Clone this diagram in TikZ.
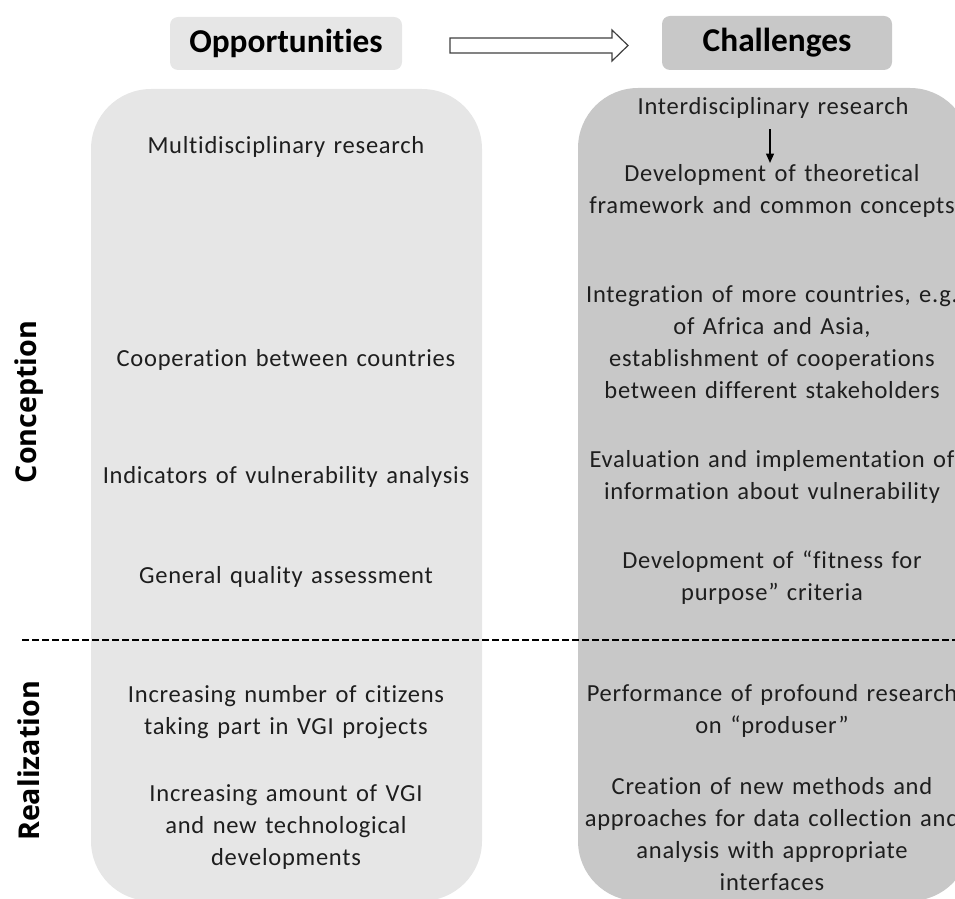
\documentclass[tikz,border=0pt]{standalone}
\usepackage{fontspec}
\setmainfont{Carlito}[LetterSpace=3, Ligatures={NoCommon}, WordSpace=1.35]
\newfontfamily\headfont{Carlito}[Ligatures={NoCommon}]
\newfontfamily\sidefont{Open Sans}
\usetikzlibrary{arrows.meta}
\definecolor{lightpanel}{HTML}{E6E6E6}
\definecolor{darkpanel}{HTML}{C8C8C8}
\definecolor{txt}{HTML}{1E1E1E}
\definecolor{arrowline}{HTML}{404040}
\begin{document}
\begin{tikzpicture}[x=0.75pt,y=-0.75pt,
  body/.style={align=center, font=\fontsize{18.4}{24}\selectfont, text=txt, inner sep=0pt},
  head/.style={font=\headfont\bfseries\fontsize{25}{30}\selectfont, rounded corners=6pt, inner sep=0pt},
  side/.style={font=\sidefont\bfseries\fontsize{21.5}{26}\selectfont, rotate=90, inner sep=0pt},
  smallarrow/.style={-{Triangle[length=7pt,width=6pt]}, line width=0.9pt, black}
]
\useasboundingbox (0,0) rectangle (955,898);
\begin{scope}
\clip (0,0) rectangle (955,898);
% panels
\fill[lightpanel, rounded corners=45pt] (91,89) rectangle (482,901);
\fill[darkpanel, rounded corners=45pt] (578,88) rectangle (970,901);
% headers
\node[head, fill=lightpanel, minimum width=174pt, minimum height=39.75pt] (opp) at (286,43.5) {Opportunities};
\node[head, fill=darkpanel, minimum width=172.5pt, minimum height=40.5pt] (chal) at (777,43) {Challenges};
% block arrow
\draw[arrowline, fill=white, line width=0.9pt, line join=miter]
  (450,38) -- (612,38) -- (612,30) -- (628,45.5) -- (612,61) -- (612,53) -- (450,53) -- cycle;
% dashed separator
\draw[black, line width=1.5pt, dash pattern=on 5pt off 2.5pt] (22,640) -- (955,640);
% side labels
\node[side] (conc) at (29,402) {Conception};
\node[side] (real) at (29,761) {Realization};
% left column
\node[body] (l1) at (286,147) {Multidisciplinary research};
\node[body] (l2) at (286,360) {Cooperation between countries};
\node[body] (l3) at (286,477) {Indicators of vulnerability analysis};
\node[body] (l4) at (286,577) {General quality assessment};
\node[body] (l5) at (286,712) {Increasing number of citizens\\taking part in VGI projects};
\node[body] (l6) at (286,827) {Increasing amount of VGI\\and new technological\\developments};
% right column
\node[body] (r0) at (773,108) {Interdisciplinary research};
\node[body] (r1) at (772,191) {Development of theoretical\\framework and common concepts};
\node[body] (r2) at (772,342) {Integration of more countries, e.g.\\of Africa and Asia,\\establishment of cooperations\\between different stakeholders};
\node[body] (r3) at (772,477) {Evaluation and implementation of\\information about vulnerability};
\node[body] (r4) at (772,578) {Development of “fitness for\\purpose” criteria};
\node[body] (r5) at (772,711) {Performance of profound research\\on “produser”};
\node[body] (r6) at (772,834) {Creation of new methods and\\approaches for data collection and\\analysis with appropriate\\interfaces};
\draw[smallarrow, shorten <=8pt, shorten >=1pt] ([xshift=-2.25pt]r0.south) -- ([xshift=-1.5pt]r1.north);
\end{scope}
\end{tikzpicture}
\end{document}
